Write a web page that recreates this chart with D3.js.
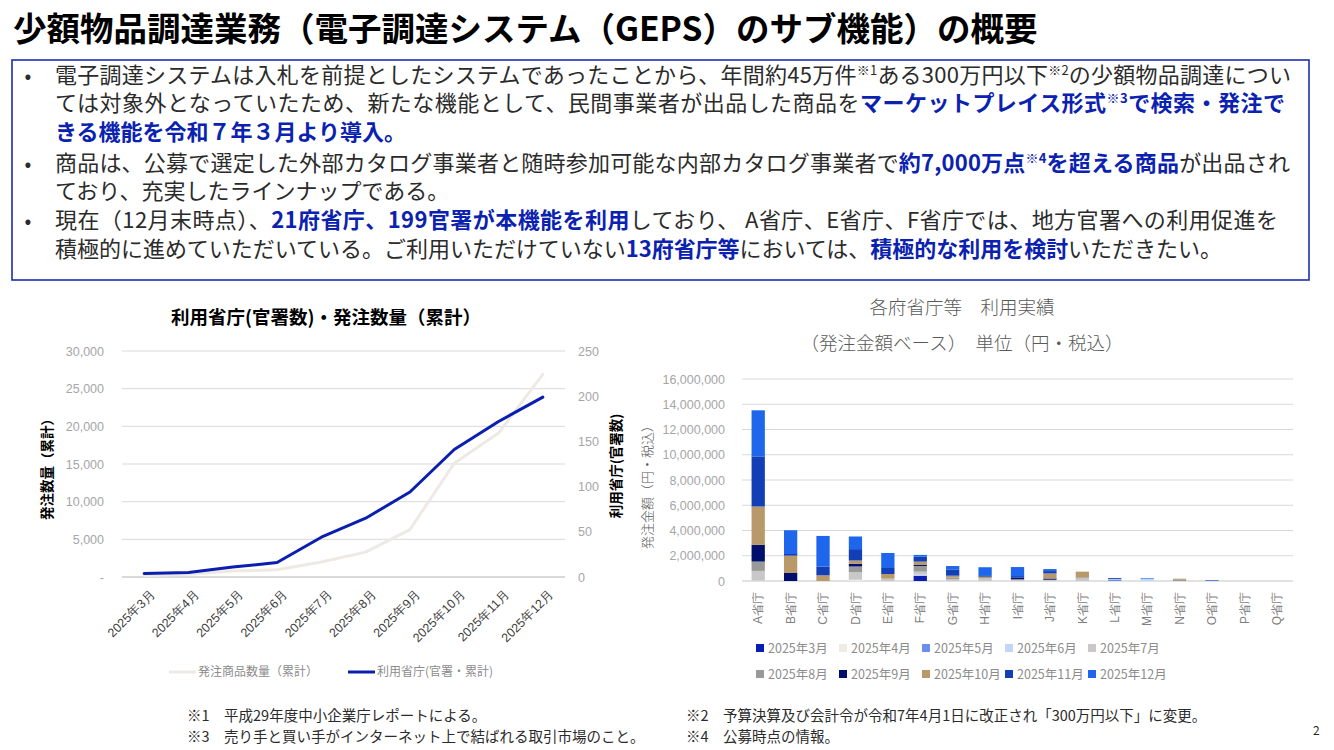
<!DOCTYPE html>
<html>
<head>
<meta charset="utf-8">
<script src="https://cdn.jsdelivr.net/npm/d3@7"></script>
<style>
  body { margin: 0; background: #fff; }
  svg { display: block; font-family: "Noto Sans CJK JP", "Noto Sans", sans-serif; }
</style>
</head>
<body>
<svg id="page" width="1334" height="750"></svg>
<script>
// ---- data: left chart (cumulative, by month)
const months = ["2025年3月", "2025年4月", "2025年5月", "2025年6月", "2025年7月",
                "2025年8月", "2025年9月", "2025年10月", "2025年11月", "2025年12月"]
const orderQty = [200, 350, 800, 950, 2000, 3300, 6300, 15100, 19100, 26900]
const agencyCount = [4, 5, 11, 16, 44, 65, 94, 141, 172, 199]
const qtyTicks = [0, 5000, 10000, 15000, 20000, 25000, 30000]
const countTicks = [0, 50, 100, 150, 200, 250]

// ---- data: right chart (order amount in yen, by ministry, one array per month)
const ministries = ["A省庁", "B省庁", "C省庁", "D省庁", "E省庁", "F省庁", "G省庁", "H省庁", "I省庁",
                    "J省庁", "K省庁", "L省庁", "M省庁", "N省庁", "O省庁", "P省庁", "Q省庁"]
const amountMar = [0, 0, 0, 0, 0, 420000, 0, 0, 0, 0, 0, 0, 0, 0, 0, 0, 0]
const amountApr = [0, 0, 0, 100000, 0, 0, 0, 0, 0, 0, 0, 0, 0, 0, 0, 0, 0]
const amountMay = [0, 0, 0, 0, 0, 0, 0, 0, 0, 0, 0, 120000, 0, 0, 50000, 0, 0]
const amountJun = [60000, 0, 0, 0, 0, 100000, 0, 0, 0, 0, 0, 0, 190000, 0, 0, 0, 0]
const amountJul = [740000, 0, 0, 600000, 185000, 220000, 160000, 210000, 130000, 100000, 210000, 50000, 0, 0, 0, 0, 0]
const amountAug = [740000, 0, 0, 450000, 0, 450000, 130000, 0, 0, 0, 80000, 0, 0, 100000, 0, 0, 0]
const amountSep = [1320000, 635000, 0, 210000, 0, 80000, 0, 0, 130000, 100000, 0, 0, 0, 0, 0, 0, 0]
const amountOct = [3040000, 1375000, 450000, 265000, 370000, 265000, 130000, 130000, 0, 400000, 450000, 0, 0, 85000, 0, 0, 0]
const amountNov = [3970000, 130000, 690000, 900000, 475000, 400000, 500000, 60000, 130000, 185000, 0, 70000, 0, 0, 30000, 0, 0]
const amountDec = [3650000, 1880000, 2430000, 1000000, 1190000, 130000, 265000, 690000, 715000, 160000, 0, 0, 50000, 0, 0, 0, 0]
const amountTicks = [0, 2000000, 4000000, 6000000, 8000000, 10000000, 12000000, 14000000, 16000000]
const monthColors = ["#0a1fb0", "#eeebe3", "#6b8fe8", "#c4d6f5", "#c8c8c8",
                     "#999999", "#000f6e", "#b8996a", "#123fb5", "#1e66eb"]

const svg = d3.select("#page")
const textColor = "#2b2b2b"
const blue = "#0b22b0"

// ---- page title
svg.append("text")
    .text("少額物品調達業務（電子調達システム（GEPS）のサブ機能）の概要")
    .attr("x", 13).attr("y", 41)
    .attr("font-size", 33.5).attr("font-weight", "bold").attr("fill", "#000")

// ---- summary box
svg.append("rect")
    .attr("x", 12).attr("y", 60).attr("width", 1297).attr("height", 220)
    .attr("fill", "none").attr("stroke", "#1c2fae").attr("stroke-width", 1.6)

// n = normal, b = bold blue, s = superscript, bs = bold blue superscript
const bodyLines = [
  [true, [["電子調達システムは入札を前提としたシステムであったことから、年間約45万件", "n"], ["※1", "s"], ["ある300万円以下", "n"], ["※2", "s"], ["の少額物品調達につい", "n"]]],
  [false, [["ては対象外となっていたため、新たな機能として、民間事業者が出品した商品を", "n"], ["マーケットプレイス形式", "b"], ["※3", "bs"], ["で検索・発注で", "b"]]],
  [false, [["きる機能を令和７年３月より導入。", "b"]]],
  [true, [["商品は、公募で選定した外部カタログ事業者と随時参加可能な内部カタログ事業者で", "n"], ["約7,000万点", "b"], ["※4", "bs"], ["を超える商品", "b"], ["が出品され", "n"]]],
  [false, [["ており、充実したラインナップである。", "n"]]],
  [true, [["現在（12月末時点）、", "n"], ["21府省庁、199官署が本機能を利用", "b"], ["しており、 A省庁、E省庁、F省庁では、地方官署への利用促進を", "n"]]],
  [false, [["積極的に進めていただいている。ご利用いただけていない", "n"], ["13府省庁等", "b"], ["においては、", "n"], ["積極的な利用を検討", "b"], ["いただきたい。", "n"]]]
]
const lineY = [83, 111, 140, 171, 199, 228, 257]
const lineWidth = [1236, 1230, null, 1235, null, 1223, 1167]

bodyLines.forEach(([bullet, segs], i) => {
  if (bullet) {
    svg.append("text").text("•")
        .attr("x", 28).attr("y", lineY[i]).attr("text-anchor", "middle")
        .attr("font-size", 20).attr("fill", textColor)
  }
  const t = svg.append("text")
      .attr("x", 55).attr("y", lineY[i])
      .attr("font-size", 22).attr("fill", textColor)
  if (lineWidth[i]) t.attr("textLength", lineWidth[i]).attr("lengthAdjust", "spacing")
  let raised = false
  segs.forEach(([str, style]) => {
    const sp = t.append("tspan").text(str)
    if (style[0] === "b") sp.attr("fill", blue).attr("font-weight", "bold")
    if (style.endsWith("s")) {
      sp.attr("font-size", 13).attr("dy", -8)
      raised = true
    } else if (raised) {
      sp.attr("dy", 8)
      raised = false
    }
  })
})

// ===================== left chart =====================
const lx0 = 122, lx1 = 565, ly0 = 577, ly1 = 351

const xL = d3.scalePoint().domain(months).range([lx0, lx1]).padding(0.5)
const yQty = d3.scaleLinear().domain([0, 30000]).range([ly0, ly1])
const yCnt = d3.scaleLinear().domain([0, 250]).range([ly0, ly1])

svg.append("text")
    .text("利用省庁(官署数)・発注数量（累計）")
    .attr("x", 326).attr("y", 324).attr("text-anchor", "middle")
    .attr("font-size", 18.5).attr("font-weight", "bold").attr("fill", "#000")

// gridlines
svg.append("g").selectAll("line")
    .data(qtyTicks)
    .enter().append("line")
      .attr("x1", lx0).attr("x2", lx1)
      .attr("y1", d => yQty(d)).attr("y2", d => yQty(d))
      .attr("stroke", "#d9d9d9")
      .attr("stroke-width", d => d === 0 ? 2 : 1)

const leftAxis = svg.append("g")
    .attr("transform", "translate(" + lx0 + ",0)")
    .call(d3.axisLeft(yQty).tickValues(qtyTicks).tickSize(0).tickPadding(18)
            .tickFormat(d => d === 0 ? "-" : d3.format(",")(d)))
leftAxis.select(".domain").remove()
leftAxis.selectAll("text").attr("font-size", 12.5).attr("fill", "#a6a6a6").attr("font-family", null)

const rightAxis = svg.append("g")
    .attr("transform", "translate(" + lx1 + ",0)")
    .call(d3.axisRight(yCnt).tickValues(countTicks).tickSize(0).tickPadding(13))
rightAxis.select(".domain").remove()
rightAxis.selectAll("text").attr("font-size", 12.5).attr("fill", "#a6a6a6").attr("font-family", null)

const bottomAxis = svg.append("g")
    .attr("transform", "translate(0," + ly0 + ")")
    .call(d3.axisBottom(xL).tickSize(0))
bottomAxis.select(".domain").remove()
bottomAxis.selectAll("text")
    .attr("font-size", 12.5).attr("fill", "#404040").attr("font-family", null)
    .attr("text-anchor", "end").attr("y", 0).attr("dy", "0.35em")
    .attr("transform", "translate(8,15) rotate(-45)")

// axis titles
svg.append("text").text("発注数量（累計）")
    .attr("transform", "translate(52,466) rotate(-90)")
    .attr("text-anchor", "middle").attr("font-size", 13.5).attr("font-weight", "bold").attr("fill", "#000")
svg.append("text").text("利用省庁(官署数)")
    .attr("transform", "translate(621,466) rotate(-90)")
    .attr("text-anchor", "middle").attr("font-size", 13.5).attr("font-weight", "bold").attr("fill", "#000")

// lines
const qtyLine = d3.line().x((d, i) => xL(months[i])).y(d => yQty(d))
const cntLine = d3.line().x((d, i) => xL(months[i])).y(d => yCnt(d))

svg.append("path").datum(orderQty)
    .attr("d", qtyLine).attr("fill", "none")
    .attr("stroke", "#eeeae3").attr("stroke-width", 3).attr("stroke-linejoin", "round").attr("stroke-linecap", "round")
svg.append("path").datum(agencyCount)
    .attr("d", cntLine).attr("fill", "none")
    .attr("stroke", "#0a1fb0").attr("stroke-width", 3).attr("stroke-linejoin", "round").attr("stroke-linecap", "round")

// legend
const leftLegend = [["発注商品数量（累計）", "#eeeae3", 169], ["利用省庁(官署・累計)", "#0a1fb0", 348]]
leftLegend.forEach(([label, color, lx]) => {
  svg.append("line")
      .attr("x1", lx).attr("x2", lx + 27).attr("y1", 672).attr("y2", 672)
      .attr("stroke", color).attr("stroke-width", 3)
  svg.append("text").text(label)
      .attr("x", lx + 29).attr("y", 676)
      .attr("font-size", 12).attr("fill", "#8c8c8c")
})

// ===================== right chart =====================
const rx0 = 742, rx1 = 1293, ry0 = 581, ry1 = 379

svg.append("text").text("各府省庁等　利用実績")
    .attr("x", 962).attr("y", 314).attr("text-anchor", "middle")
    .attr("font-size", 18.5).attr("font-weight", 300).attr("fill", "#595959")
svg.append("text").text("（発注金額ベース）　単位（円・税込）")
    .attr("x", 962).attr("y", 350).attr("text-anchor", "middle")
    .attr("font-size", 18.5).attr("font-weight", 300).attr("fill", "#595959")

const xB = d3.scaleBand().domain(ministries).range([rx0, rx1]).paddingInner(0.59).paddingOuter(0.295)
const yAmt = d3.scaleLinear().domain([0, 16000000]).range([ry0, ry1])

svg.append("g").selectAll("line")
    .data(amountTicks)
    .enter().append("line")
      .attr("x1", rx0).attr("x2", rx1)
      .attr("y1", d => yAmt(d)).attr("y2", d => yAmt(d))
      .attr("stroke", "#d9d9d9").attr("stroke-width", d => d === 0 ? 1.5 : 1)

const amtAxis = svg.append("g")
    .attr("transform", "translate(" + rx0 + ",0)")
    .call(d3.axisLeft(yAmt).tickValues(amountTicks).tickSize(0).tickPadding(17).tickFormat(d3.format(",")))
amtAxis.select(".domain").remove()
amtAxis.selectAll("text").attr("font-size", 12.5).attr("fill", "#a6a6a6").attr("font-family", null)

svg.append("text").text("発注金額（円・税込）")
    .attr("transform", "translate(652,484) rotate(-90)")
    .attr("text-anchor", "middle").attr("font-size", 13).attr("font-weight", 300).attr("fill", "#595959")

const monthly = [amountMar, amountApr, amountMay, amountJun, amountJul,
                 amountAug, amountSep, amountOct, amountNov, amountDec]
const rows = ministries.map((m, i) => {
  const row = { name: m }
  monthly.forEach((arr, k) => { row[k] = arr[i] })
  return row
})
const keys = d3.range(monthly.length)
const stacked = d3.stack().keys(keys)(rows)

svg.append("g").selectAll("g")
    .data(stacked)
    .enter().append("g")
      .attr("fill", d => monthColors[d.key])
    .selectAll("rect")
    .data(d => d)
    .enter().append("rect")
      .attr("x", d => xB(d.data.name))
      .attr("width", xB.bandwidth())
      .attr("y", d => yAmt(d[1]))
      .attr("height", d => yAmt(d[0]) - yAmt(d[1]))

const catAxis = svg.append("g")
    .attr("transform", "translate(0," + ry0 + ")")
    .call(d3.axisBottom(xB).tickSize(0))
catAxis.select(".domain").remove()
catAxis.selectAll("text")
    .attr("font-size", 12).attr("fill", "#7f7f7f").attr("font-family", null)
    .attr("text-anchor", "end").attr("y", 0).attr("dy", "0.35em")
    .attr("transform", "translate(0,11) rotate(-90)")

// legend, two rows of five
monthColors.forEach((c, i) => {
  const lx = 760 + (i % 5) * 83
  const ly = i < 5 ? 648 : 674
  svg.append("rect").attr("x", lx - 4).attr("y", ly - 4).attr("width", 8).attr("height", 8).attr("fill", c)
  svg.append("text").text(months[i])
      .attr("x", lx + 8).attr("y", ly + 4.5)
      .attr("font-size", 12.5).attr("fill", "#8c8c8c")
})

// ---- footnotes
const notes = [
  ["※1　平成29年度中小企業庁レポートによる。", 187, 721],
  ["※3　売り手と買い手がインターネット上で結ばれる取引市場のこと。", 187, 742],
  ["※2　予算決算及び会計令が令和7年4月1日に改正され「300万円以下」に変更。", 686, 721],
  ["※4　公募時点の情報。", 686, 742]
]
notes.forEach(([s, x, y]) => {
  svg.append("text").text(s).attr("x", x).attr("y", y)
      .attr("font-size", 14.5).attr("fill", textColor)
})
svg.append("text").text("2").attr("x", 1313).attr("y", 735)
    .attr("font-size", 12).attr("fill", textColor)
</script>
</body>
</html>
